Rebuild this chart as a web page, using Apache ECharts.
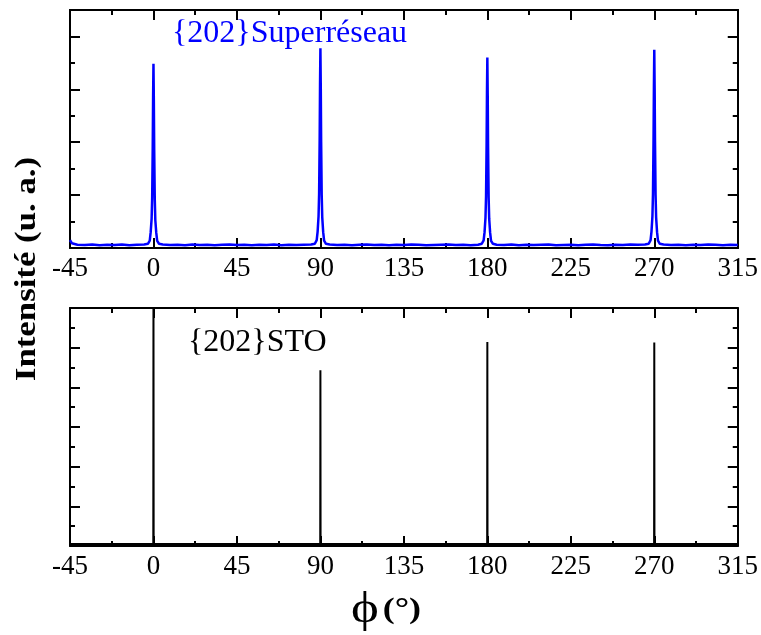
<!DOCTYPE html>
<html>
<head>
<meta charset="utf-8">
<script src="https://cdn.jsdelivr.net/npm/echarts@6/dist/echarts.min.js"></script>
<style>
	html, body {margin: 0; padding: 0; background: #fff;}
	#chart {width: 761px; height: 635px;}
</style>
</head>
<body>
<div id="chart"></div>
<script>
"use strict";

// phi tick labels (degrees)
var phiTicks = [-45, 0, 45, 90, 135, 180, 225, 270, 315];

// top panel: {202} superlattice, baseline
var basePhi = [-45, -44, -41, -37, -33, -29, -25, -21, -17, -13, -9, -5,
	5, 9, 13, 17, 21, 25, 29, 33, 37, 41, 45, 49, 53, 57, 61, 65, 69, 73, 77, 81, 85,
	95, 99, 103, 107, 111, 115, 119, 123, 127, 131, 135, 139, 143, 147, 151, 155, 159, 163, 167, 171, 175,
	185, 189, 193, 197, 201, 205, 209, 213, 217, 221, 225, 229, 233, 237, 241, 245, 249, 253, 257, 261, 265,
	275, 279, 283, 287, 291, 295, 299, 303, 307, 311, 315];
var baseInt = [0.3, 0.18, 0.12, 0.11, 0.13, 0.1, 0.12, 0.11, 0.13, 0.1, 0.12, 0.13,
	0.13, 0.11, 0.12, 0.1, 0.13, 0.11, 0.12, 0.1, 0.12, 0.13, 0.11, 0.12, 0.1, 0.12, 0.11, 0.13, 0.1, 0.12, 0.11, 0.12, 0.13,
	0.13, 0.11, 0.12, 0.1, 0.12, 0.13, 0.11, 0.12, 0.1, 0.12, 0.11, 0.13, 0.12, 0.1, 0.11, 0.12, 0.13, 0.11, 0.12, 0.1, 0.12,
	0.12, 0.11, 0.13, 0.1, 0.12, 0.11, 0.12, 0.13, 0.1, 0.11, 0.12, 0.1, 0.12, 0.13, 0.11, 0.1, 0.12, 0.11, 0.13, 0.12, 0.13,
	0.13, 0.11, 0.12, 0.1, 0.12, 0.11, 0.13, 0.12, 0.1, 0.12, 0.11];

// peak profiles, offsets from the peak centre
var peakCentres = [0, 90, 180, 270];
var peakOffsets = [-3, -2, -1.5, -1, -0.7, -0.4, -0.2, 0, 0.2, 0.4, 0.7, 1, 1.5, 2, 3];
var peak0 = [0.16, 0.28, 0.6, 1.1, 1.9, 3.8, 5.7, 6.97, 5.6, 3.7, 1.85, 1.05, 0.58, 0.27, 0.16];
var peak90 = [0.16, 0.3, 0.62, 1.2, 2.05, 4.1, 6.2, 7.55, 6.1, 4.0, 2.0, 1.15, 0.6, 0.28, 0.16];
var peak180 = [0.16, 0.29, 0.6, 1.15, 1.95, 3.9, 5.9, 7.2, 5.8, 3.8, 1.9, 1.1, 0.58, 0.27, 0.16];
var peak270 = [0.16, 0.3, 0.62, 1.2, 2.05, 4.1, 6.1, 7.5, 6.0, 4.0, 2.0, 1.15, 0.6, 0.28, 0.16];

// bottom panel: {202} STO substrate
var stoPhi = [-45, -0.1, 0, 0.1, 89.9, 90, 90.1, 179.9, 180, 180.1, 269.9, 270, 270.1, 315];
var stoInt = [0.05, 0.05, 6.5, 0.05, 0.05, 4.43, 0.05, 0.05, 5.14, 0.05, 0.05, 5.13, 0.05, 0.05];

var serif = "'Liberation Serif', 'DejaVu Serif', serif";

function topData() {
	var pts = [], peaks = [peak0, peak90, peak180, peak270];
	for (var i = 0; i < basePhi.length; i++) {
		pts.push([basePhi[i], baseInt[i]]);
	}
	for (var p = 0; p < peaks.length; p++) {
		for (var j = 0; j < peakOffsets.length; j++) {
			pts.push([peakCentres[p] + peakOffsets[j], peaks[p][j]]);
		}
	}
	pts.sort(function (a, b) { return a[0] - b[0]; });
	return pts;
}

function pairs(x, y) {
	var d = [];
	for (var i = 0; i < x.length; i++) {
		d.push([x[i], y[i]]);
	}
	return d;
}

function xAxis(grid, pos, labels) {
	return {
		type: 'value',
		gridIndex: grid,
		position: pos,
		min: phiTicks[0],
		max: phiTicks[phiTicks.length - 1],
		interval: 45,
		axisLine: {show: true, onZero: false, lineStyle: {color: '#000', width: 2}},
		axisTick: {show: true, inside: true, length: 10, lineStyle: {color: '#000', width: 2}},
		minorTick: {show: true, splitNumber: 2, length: 5, lineStyle: {color: '#000', width: 2}},
		axisLabel: {
			show: labels,
			margin: 7,
			fontSize: 27,
			fontFamily: serif,
			color: '#000',
			showMinLabel: true,
			showMaxLabel: true
		},
		splitLine: {show: false}
	};
}

function yAxis(grid, pos, max, interval, len, minor) {
	return {
		type: 'value',
		gridIndex: grid,
		position: pos,
		min: 0,
		max: max,
		interval: interval,
		axisLine: {show: true, onZero: false, lineStyle: {color: '#000', width: 2}},
		axisTick: {show: true, inside: true, length: len, lineStyle: {color: '#000', width: 2}},
		minorTick: {show: minor, splitNumber: 2, length: 5, lineStyle: {color: '#000', width: 2}},
		axisLabel: {show: false},
		splitLine: {show: false}
	};
}

var chart = echarts.init(document.getElementById('chart'), null, {renderer: 'canvas'});

var option = {
	animation: false,
	backgroundColor: '#fff',
	grid: [
		{left: 70, right: 21, top: 10, height: 238},
		{left: 70, right: 21, top: 308, height: 238}
	],
	xAxis: [
		xAxis(0, 'bottom', true),
		xAxis(0, 'top', false),
		xAxis(1, 'bottom', true),
		xAxis(1, 'top', false)
	],
	yAxis: [
		yAxis(0, 'left', 9, 2, 10, false),
		yAxis(0, 'left', 9, 1, 5, false),
		yAxis(0, 'right', 9, 2, 10, false),
		yAxis(0, 'right', 9, 1, 5, false),
		yAxis(1, 'left', 6, 1, 10, true),
		yAxis(1, 'right', 6, 1, 10, true)
	],
	series: [
		{
			name: '{202}Superréseau',
			type: 'line',
			xAxisIndex: 0,
			yAxisIndex: 0,
			data: topData(),
			symbol: 'none',
			clip: true,
			lineStyle: {color: '#0000ff', width: 2.5}
		},
		{
			name: '{202}STO',
			type: 'line',
			xAxisIndex: 2,
			yAxisIndex: 4,
			data: pairs(stoPhi, stoInt),
			symbol: 'none',
			clip: true,
			lineStyle: {color: '#000', width: 2}
		}
	],
	graphic: [
		{
			type: 'text', x: 172, y: 34,
			style: {text: '{202}Superréseau', font: '32px ' + serif, fill: '#0000ff',
				textVerticalAlign: 'middle', verticalAlign: 'middle'}
		},
		{
			type: 'text', x: 188, y: 343,
			style: {text: '{202}STO', font: '32px ' + serif, fill: '#000',
				textVerticalAlign: 'middle', verticalAlign: 'middle'}
		},
		{
			type: 'text', x: 28, y: 269, rotation: Math.PI / 2, scaleX: 1.2,
			style: {text: 'Intensité (u. a.)', font: 'bold 29px ' + serif, fill: '#000',
				textAlign: 'center', align: 'center', textVerticalAlign: 'middle', verticalAlign: 'middle'}
		},
		{
			type: 'text', x: 386, y: 610, scaleX: 1.2,
			style: {
				text: '{a|ϕ} {b|(°)}',
				textAlign: 'center', align: 'center', textVerticalAlign: 'middle', verticalAlign: 'middle',
				rich: {
					a: {fontSize: 44, fontFamily: serif, fill: '#000', color: '#000'},
					b: {fontSize: 30, fontWeight: 'bold', fontFamily: serif, fill: '#000', color: '#000'}
				}
			}
		}
	]
};

chart.setOption(option);
</script>
</body>
</html>
